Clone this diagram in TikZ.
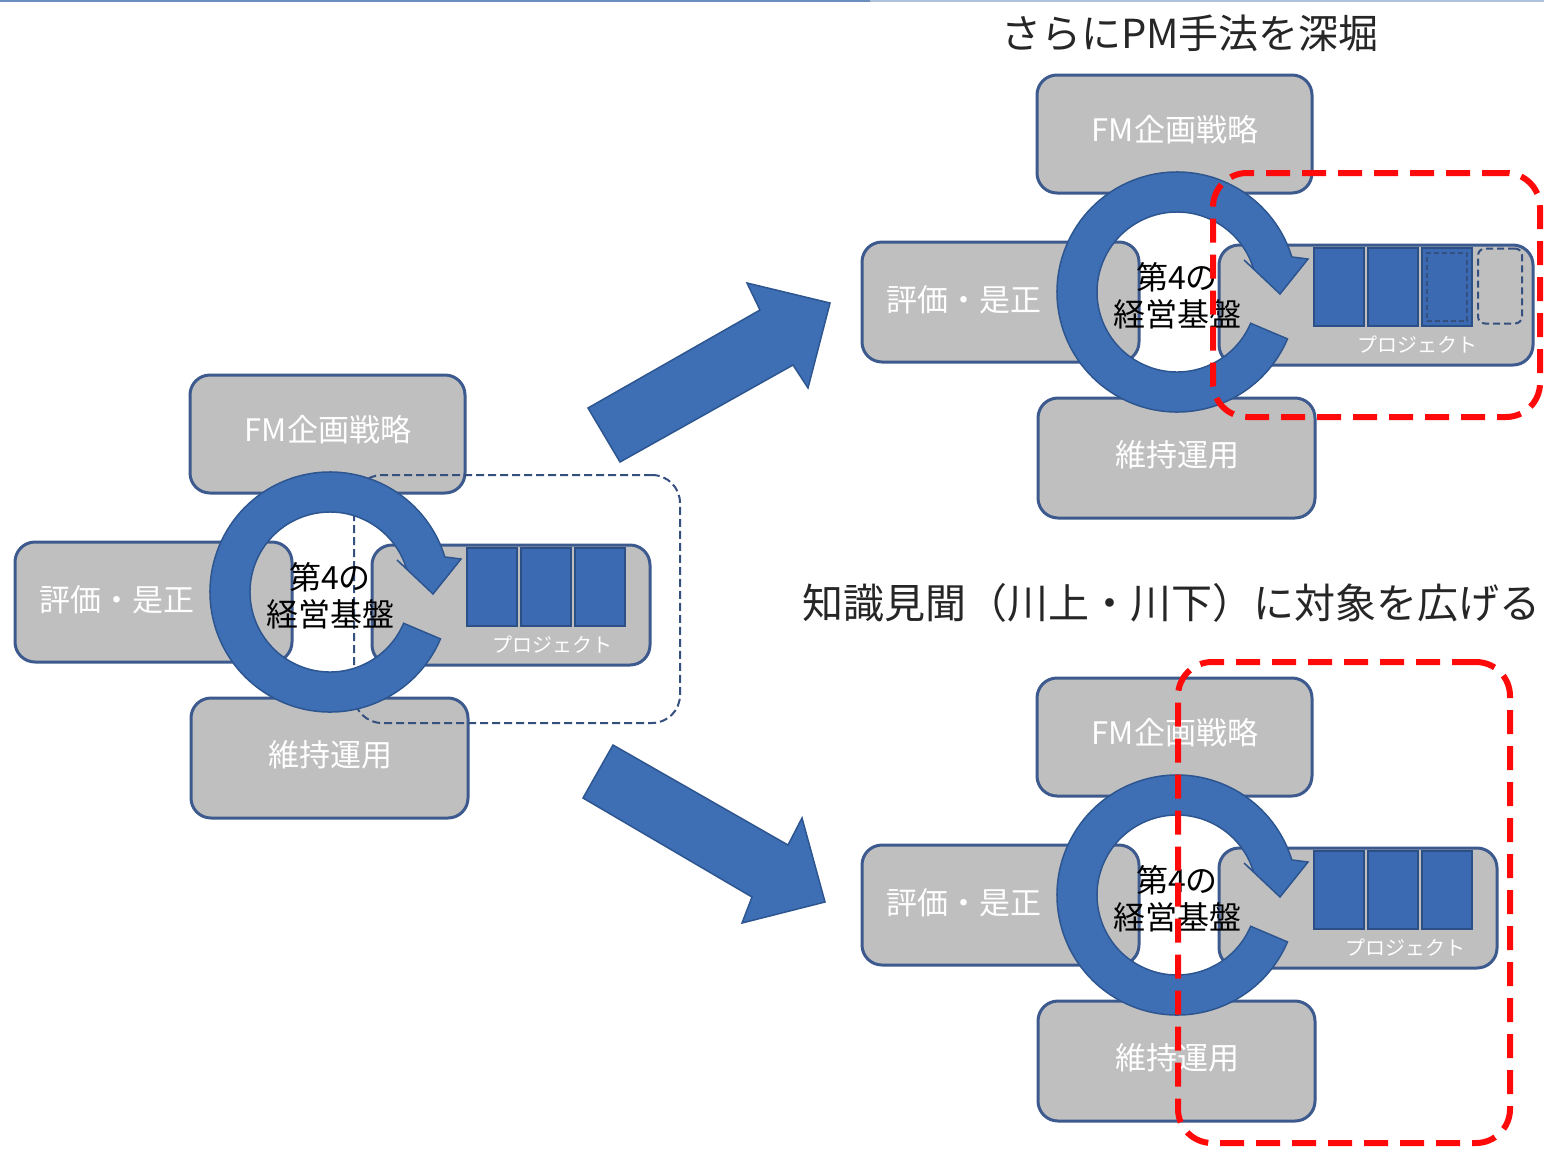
\documentclass[tikz,border=0pt]{standalone}
\usepackage{fontspec}
\newfontfamily\jp{Noto Sans CJK JP}
\definecolor{boxgray}{HTML}{BFBFBF}
\definecolor{boxborder}{HTML}{3D5A8E}
\definecolor{ringblue}{HTML}{3E6FB5}
\definecolor{ringedge}{HTML}{2D558F}
\definecolor{blockblue}{HTML}{3B6AB3}
\definecolor{blockedge}{HTML}{2C4F86}
\definecolor{navydash}{HTML}{35507F}
\definecolor{reddash}{HTML}{FF0A0A}
\definecolor{topline}{HTML}{6C8EBF}
\definecolor{toplinelight}{HTML}{AFC2DC}
\tikzset{
  gbox/.style={draw=boxborder, fill=boxgray, line width=3pt, rounded corners=20pt, inner sep=0pt},
  boxtext/.style={text=white, font=\jp\fontsize{31}{36}\selectfont, inner sep=0pt},
  projtext/.style={text=white, font=\jp\fontsize{20}{24}\selectfont, inner sep=0pt},
  coretext/.style={text=black, font=\jp\fontsize{32}{37}\selectfont, align=center, inner sep=0pt},
  titletext/.style={text=black!85, font=\jp\fontsize{40}{46}\selectfont, inner sep=0pt},
  pblock/.style={draw=blockedge, fill=blockblue, line width=1.5pt, minimum width=50pt, minimum height=78pt, inner sep=0pt},
  ringstyle/.style={fill=ringblue, draw=ringedge, line width=1.5pt},
  bigarrow/.style={fill=ringblue, draw=ringedge, line width=1.5pt, line join=miter},
  navybox/.style={draw=navydash, line width=2pt, dash pattern=on 8pt off 4pt, rounded corners=28pt, inner sep=0pt},
  redbox/.style={draw=reddash, line width=6pt, dash pattern=on 24pt off 12pt, rounded corners=34pt, inner sep=0pt},
}
% #1 prefix, #2 cx, #3 cy (screen), #4 project right edge (rel), #5 project label x (rel)
\newcommand\drawcluster[5]{%
\begin{scope}[shift={(#2,-#3)}]
  \node[gbox, minimum width=275pt, minimum height=118pt] (#1fm) at (-2.5,158) {};
  \node[gbox, minimum width=277pt, minimum height=120pt] (#1ev) at (-176.5,-10) {};
  \node[gbox, minimum width=277pt, minimum height=120pt] (#1mt) at (-0.5,-166) {};
  \node[gbox, minimum width={#4-42}, minimum height=120pt] (#1pj) at ({(42+#4)/2},-13) {};
  \node[boxtext] (#1fmt) at (-2,162) {FM企画戦略};
  \node[boxtext] (#1evt) at (-213,-8) {評価・是正};
  \node[boxtext] (#1mtt) at (0,-163) {維持運用};
  \node[pblock] (#1r1) at (162,5) {};
  \node[pblock] (#1r2) at (216,5) {};
  \node[pblock] (#1r3) at (270,5) {};
  \node[projtext] (#1pjt) at (#5,-53) {プロジェクト};
\end{scope}}
\newcommand\drawring[3]{%
\begin{scope}[shift={(#2,-#3)}]
  \path[ringstyle] (17:120) arc[start angle=17, end angle=337, radius=120]
    -- (337:80) arc[start angle=337, end angle=17, radius=80]
    -- (67,32) -- (103,-2) -- (131,33) -- cycle;
  \node[coretext] (#1core) at (0,-4) {第4の\\経営基盤};
\end{scope}}
\begin{document}
\begin{tikzpicture}[x=1pt,y=1pt]
\useasboundingbox (0,0) rectangle (1544,-1149);
\fill[white] (0,0) rectangle (1544,-1149);
\fill[topline] (0,0) rectangle (870,-2);
\fill[toplinelight] (870,0) rectangle (1544,-2);

% titles
\node[titletext] (title1) at (1190,-33) {さらにPM手法を深堀};
\node[titletext, font=\jp\fontsize{41}{46}\selectfont] (title2) at (1171,-603) {知識見聞（川上・川下）に対象を広げる};

% left cluster
\drawcluster{L}{330}{592}{320}{222}
\node[navybox, minimum width=326pt, minimum height=248pt] (Lscope) at (517,-599) {};
\drawring{L}{330}{592}

% top-right cluster
\drawcluster{T}{1177}{292}{356}{240}
\begin{scope}[shift={(1177,-292)}]
  \node[draw=navydash, line width=1.5pt, dash pattern=on 5pt off 3pt, minimum width=40pt, minimum height=68pt, inner sep=0pt] (Tr3in) at (270,5) {};
  \node[draw=navydash, line width=2pt, dash pattern=on 7pt off 4pt, rounded corners=7pt, minimum width=44pt, minimum height=75pt, inner sep=0pt] (Tr4) at (323,6) {};
\end{scope}
\drawring{T}{1177}{292}

% bottom-right cluster
\drawcluster{B}{1177}{895}{320}{228}
\drawring{B}{1177}{895}

% big arrows
\path[bigarrow] (588,-408) -- (760,-310) -- (747,-283) -- (830,-303) -- (808,-388) -- (793,-365) -- (620,-462) -- cycle;
\path[bigarrow] (613,-745) -- (788,-845) -- (802,-818) -- (825,-902) -- (742,-923) -- (752,-897) -- (583,-798) -- cycle;

% red dashed scopes
\node[redbox, minimum width=327pt, minimum height=244pt] (Tscope) at (1376.5,-295) {};
\node[redbox, minimum width=332pt, minimum height=481pt] (Bscope) at (1344,-902.5) {};
\end{tikzpicture}
\end{document}
